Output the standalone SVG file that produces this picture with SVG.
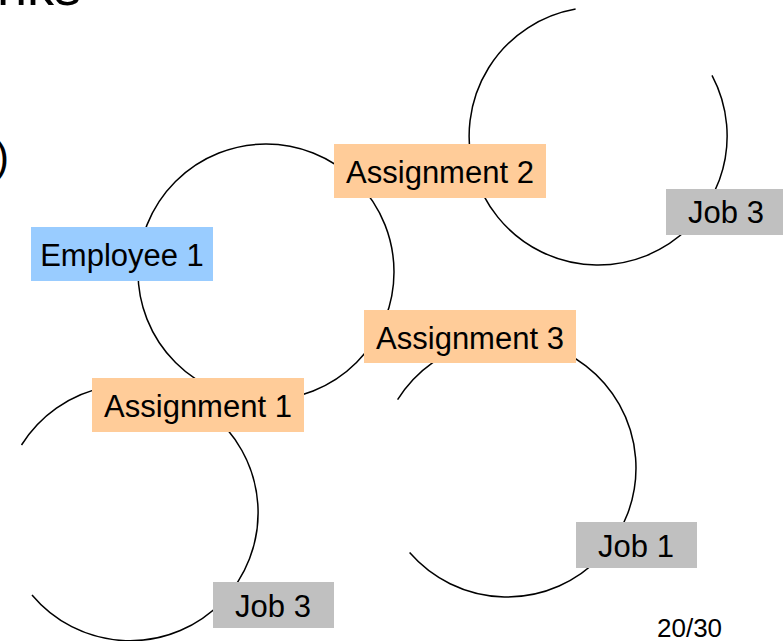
<svg xmlns="http://www.w3.org/2000/svg" width="783" height="641" viewBox="0 0 783 641">
  <style>
    text { font-family: "Liberation Sans", Arial, sans-serif; fill: #000; }
    .lbl { font-size: 31px; text-anchor: middle; }
    .ring { fill: none; stroke: #000; stroke-width: 1.5; }
    .assign { fill: #FFCC99; }
    .emp { fill: #99CCFF; }
    .job { fill: #C0C0C0; }
  </style>
  <rect width="783" height="641" fill="#fff"/>

  <!-- slide fragments -->
  <text x="-3" y="5" font-size="54">nks</text>
  <text x="-5" y="171" font-size="42">)</text>

  <!-- relationship rings -->
  <g id="connectors">
    <circle class="ring" cx="266" cy="272" r="128"/>
    <path class="ring" d="M 712 75.4 A 129 129 0 1 1 575.6 9"/>
    <path class="ring" d="M 21.5 445 A 128 128 0 1 1 32 595"/>
    <path class="ring" d="M 397.6 399.6 A 129 129 0 1 1 409.6 552.6"/>
  </g>

  <g id="employee1">
    <rect class="emp" x="31" y="227" width="182" height="54"/>
    <text class="lbl" x="122" y="266">Employee 1</text>
  </g>
  <g id="assignment2">
    <rect class="assign" x="334" y="144" width="212" height="54"/>
    <text class="lbl" x="440" y="183">Assignment 2</text>
  </g>
  <g id="assignment3">
    <rect class="assign" x="364" y="310" width="212" height="53"/>
    <text class="lbl" x="470" y="349">Assignment 3</text>
  </g>
  <g id="assignment1">
    <rect class="assign" x="92" y="378" width="212" height="54"/>
    <text class="lbl" x="198" y="417">Assignment 1</text>
  </g>
  <g id="job3-top">
    <rect class="job" x="666" y="189" width="121" height="46"/>
    <text class="lbl" x="726" y="223">Job 3</text>
  </g>
  <g id="job3-bottom">
    <rect class="job" x="213" y="582" width="121" height="46"/>
    <text class="lbl" x="273" y="617">Job 3</text>
  </g>
  <g id="job1">
    <rect class="job" x="576" y="522" width="121" height="46"/>
    <text class="lbl" x="636" y="557">Job 1</text>
  </g>

  <text x="657" y="637" font-size="26">20/30</text>
</svg>
